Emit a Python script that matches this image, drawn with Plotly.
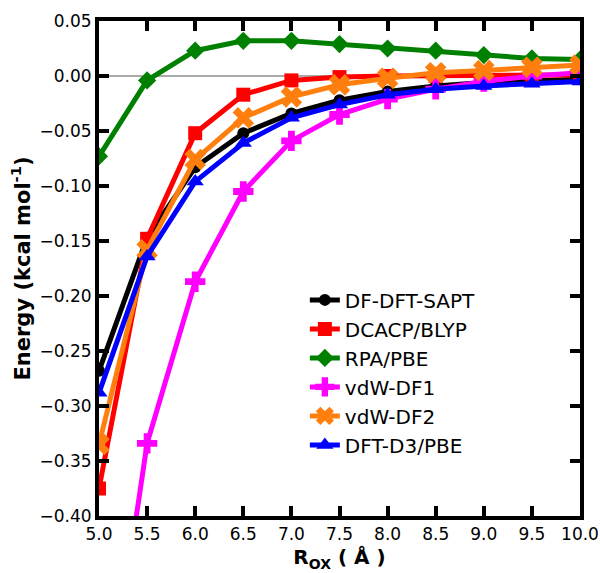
import plotly.graph_objects as go

r_ox = [5.0, 5.5, 6.0, 6.5, 7.0, 7.5, 8.0, 8.5, 9.0, 9.5, 10.0]

sapt = [-0.268, -0.147, -0.083, -0.052, -0.034, -0.022, -0.014, -0.009, -0.006, -0.004, -0.003]
dcacp = [-0.375, -0.148, -0.052, -0.017, -0.004, -0.001, 0.000, 0.000, 0.001, 0.001, 0.001]
rpa = [-0.073, -0.004, 0.023, 0.032, 0.032, 0.029, 0.025, 0.023, 0.019, 0.016, 0.015]
vdwdf1 = [-0.63, -0.334, -0.187, -0.105, -0.059, -0.035, -0.021, -0.012, -0.005, 0.000, 0.003]
vdwdf2 = [-0.335, -0.158, -0.076, -0.038, -0.019, -0.008, -0.002, 0.003, 0.005, 0.008, 0.010]
d3pbe = [-0.288, -0.164, -0.096, -0.061, -0.038, -0.026, -0.017, -0.012, -0.009, -0.007, -0.005]

series = [
    ("DF-DFT-SAPT", sapt, "#000000", "circle", 12),
    ("DCACP/BLYP", dcacp, "#ff0000", "square", 14),
    ("RPA/PBE", rpa, "#008000", "diamond", 14),
    ("vdW-DF1", vdwdf1, "#ff00ff", "cross", 17),
    ("vdW-DF2", vdwdf2, "#ff7f0e", "x", 19),
    ("DFT-D3/PBE", d3pbe, "#0000ff", "triangle-up", 15),
]

fig = go.Figure()
for name, ys, col, sym, sz in series:
    fig.add_trace(go.Scatter(
        x=r_ox, y=ys, name=name, mode="lines+markers",
        line=dict(color=col, width=5),
        marker=dict(symbol=sym, size=sz, color=col, line=dict(width=0)),
    ))

fig.add_shape(type="line", xref="x", yref="y", x0=5.0, x1=10.0, y0=0, y1=0,
              line=dict(color="#555555", width=1), layer="below")

axis_common = dict(
    showline=True, linecolor="black", linewidth=4, mirror="ticks",
    ticks="inside", ticklen=10, tickwidth=4, tickcolor="black",
    showgrid=False, zeroline=False, automargin=False,
    tickfont=dict(family="DejaVu Sans", size=17, color="black"),
)

fig.update_layout(
    width=600, height=573,
    margin=dict(l=99, r=20, t=21, b=57),
    paper_bgcolor="white", plot_bgcolor="white",
    font=dict(family="DejaVu Sans", color="black"),
    xaxis=dict(range=[5.0, 10.0], tickvals=r_ox,
               ticktext=[f"{v:.1f}" for v in r_ox],
               title=dict(text="<b>R<sub>OX</sub> ( Å )</b>", font=dict(size=20), standoff=8),
               **axis_common),
    yaxis=dict(range=[-0.40, 0.05], dtick=0.05, tickformat=".2f",
               title=dict(text="<b>Energy (kcal mol<sup>-1</sup>)</b>", font=dict(size=21), standoff=4),
               **axis_common),
    legend=dict(x=0.428, y=0.476, xanchor="left", yanchor="top",
                bgcolor="rgba(0,0,0,0)", font=dict(size=20, color="black"),
                tracegroupgap=0, itemwidth=30),
    showlegend=True,
)

fig.write_html("out.html")
